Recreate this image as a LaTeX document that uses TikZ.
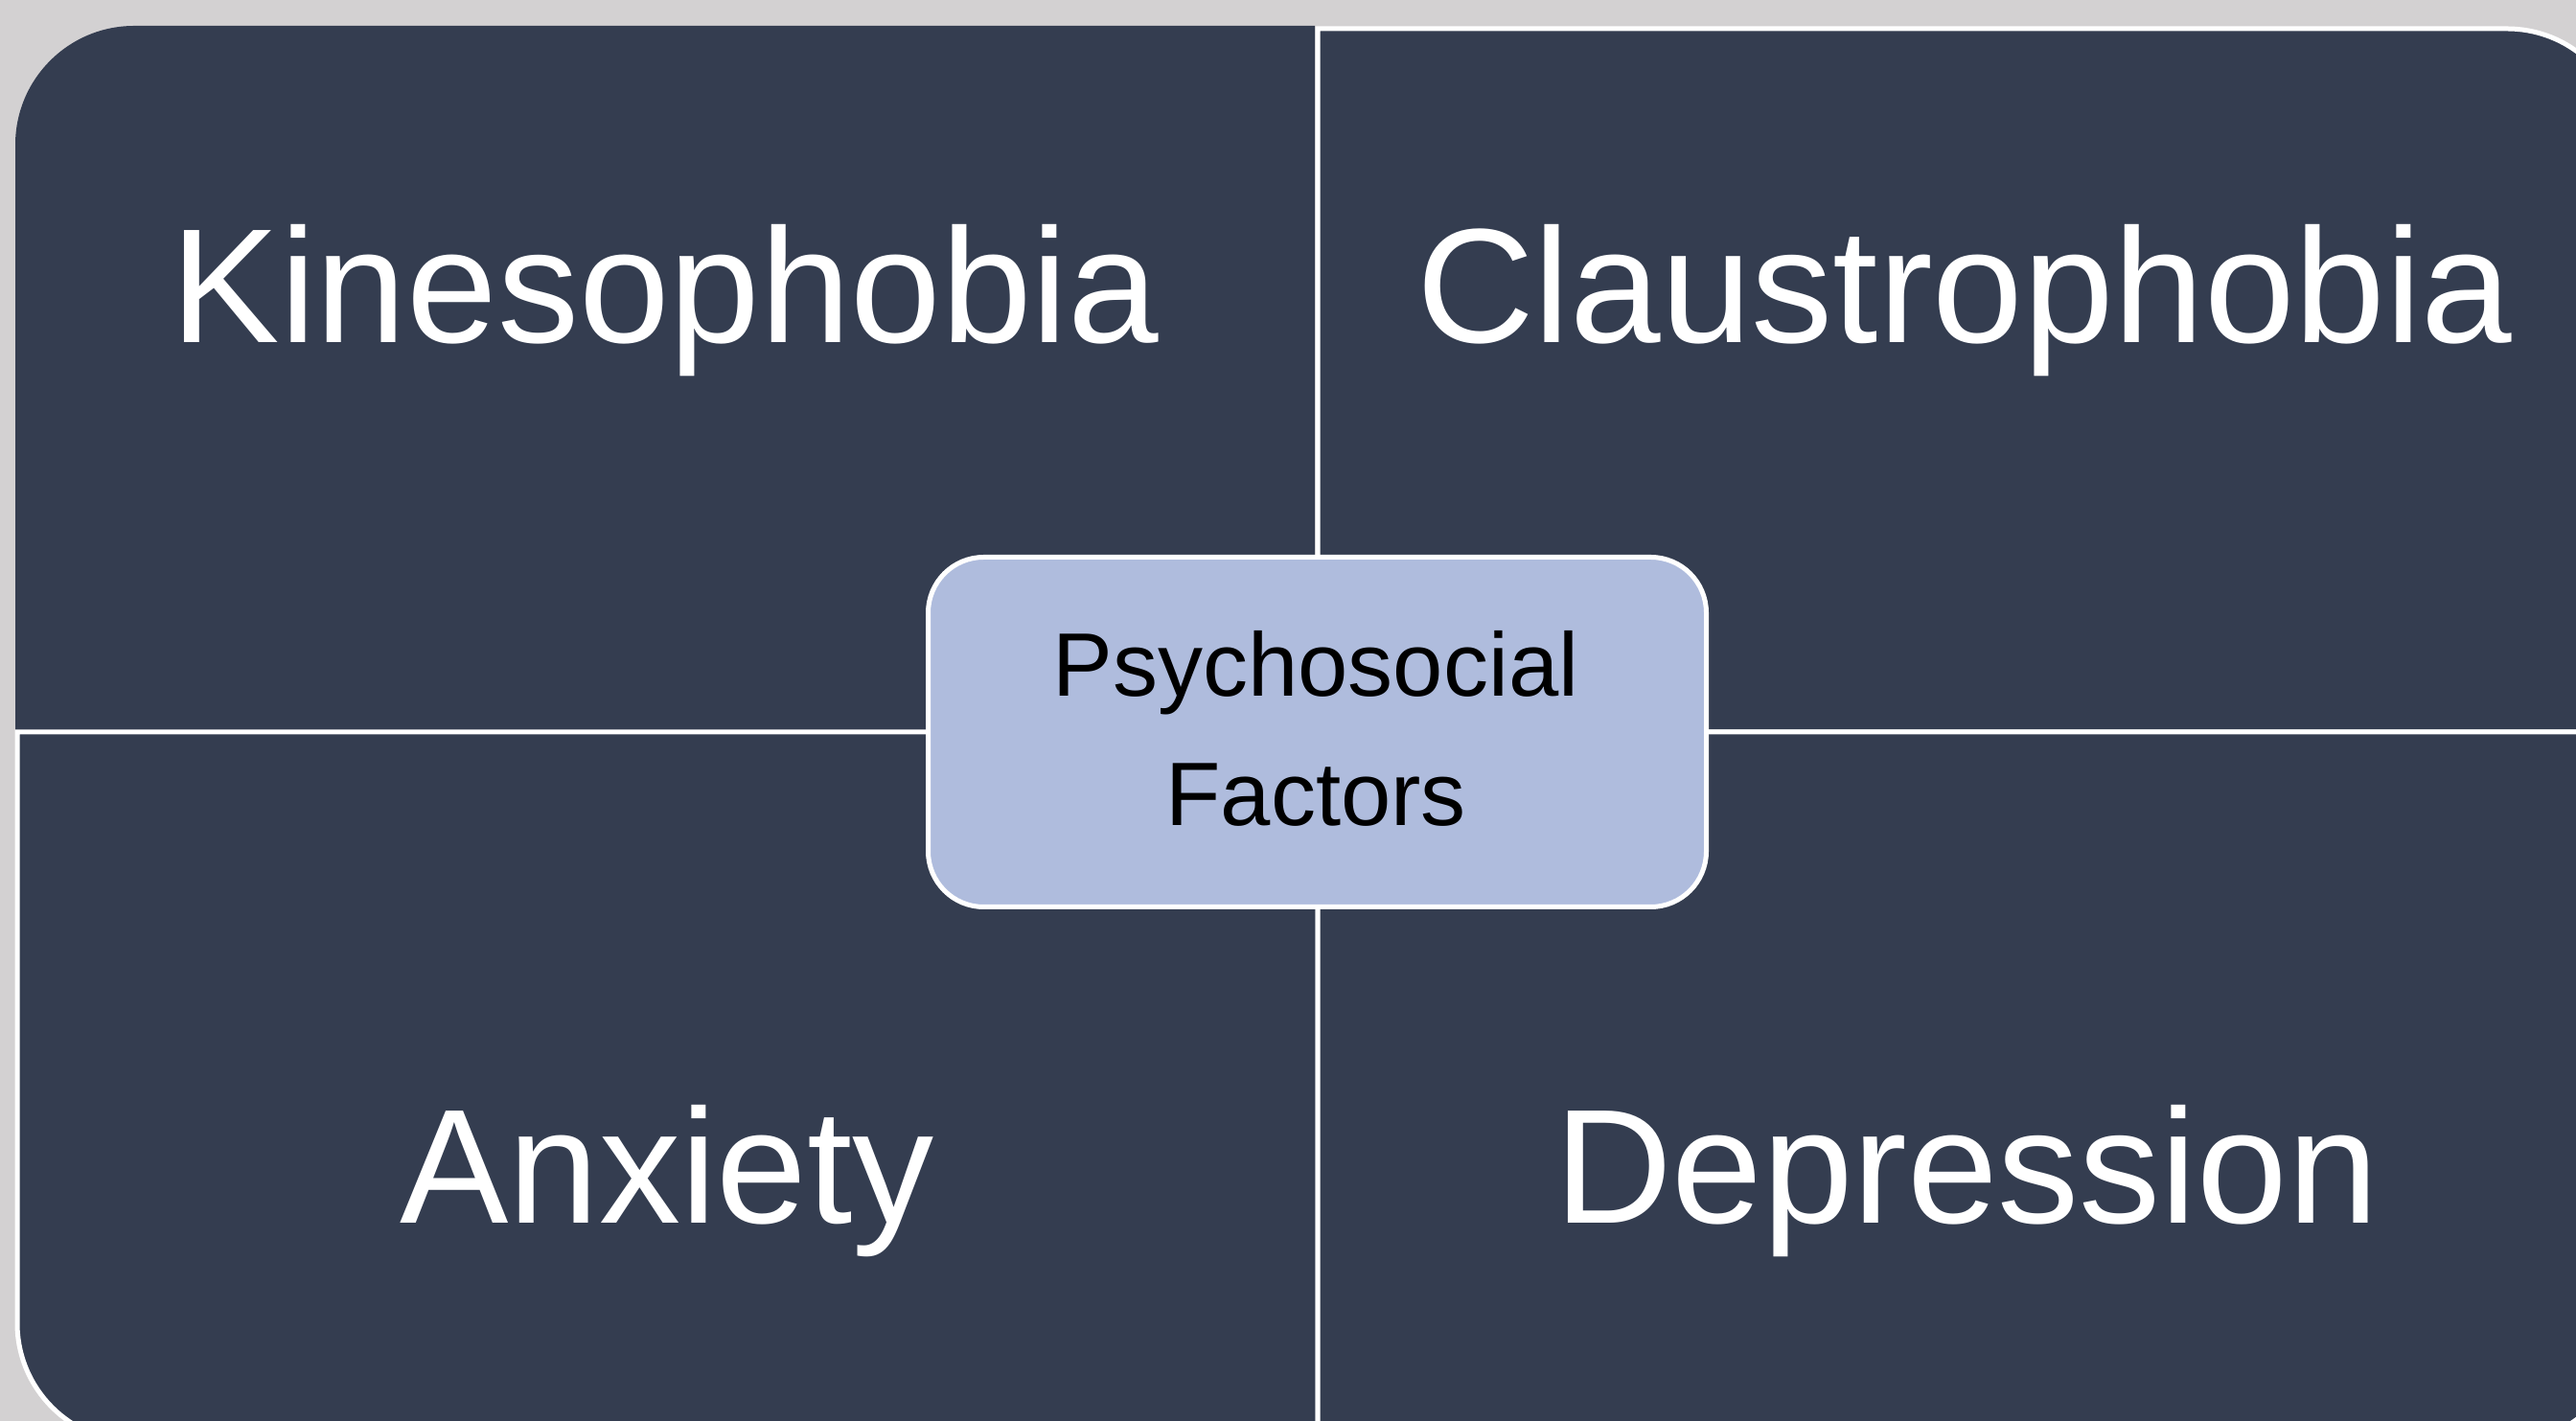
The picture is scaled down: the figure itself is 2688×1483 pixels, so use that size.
\documentclass[tikz,border=0pt]{standalone}
\usepackage{fontspec}
\setmainfont{Liberation Sans}
\definecolor{bggray}{HTML}{D3D1D2}
\definecolor{quaddark}{HTML}{343D50}
\definecolor{centerblue}{HTML}{AFBCDD}
\begin{document}
\begin{tikzpicture}[x=1pt,y=1pt,
  quadfill/.style={fill=quaddark},
  quadline/.style={fill=quaddark,draw=white,line width=5pt},
  bigtext/.style={text=white,font=\fontsize{170}{204}\selectfont,anchor=base,inner sep=0pt},
  centertext/.style={text=black,font=\fontsize{94}{113}\selectfont,anchor=base,inner sep=0pt},
  centerbox/.style={draw=white,line width=5pt,fill=centerblue,rounded corners=58pt,
    minimum width=812pt,minimum height=365pt,inner sep=0pt}]
\useasboundingbox (0,0) rectangle (2688,1483);
\fill[bggray] (0,0) rectangle (2688,1483);
\begin{scope}
\clip (0,0) rectangle (2688,1483);
% top-left quadrant (no outline)
\path[quadfill] (1372,721) -- (16,721) -- (16,1332) arc[start angle=180,end angle=90,radius=124] -- (1372,1456) -- cycle;
% top-right quadrant
\path[quadline] (1375,719) -- (1375,1453) -- (2616,1453) arc[start angle=90,end angle=0,radius=124] -- (2740,719) -- cycle;
% bottom-left quadrant
\path[quadline] (1375,719) -- (18,719) -- (18,102) arc[start angle=180,end angle=270,radius=124] -- (1375,-22) -- cycle;
% bottom-right quadrant
\path[quadline] (1375,719) -- (2740,719) -- (2740,102) arc[start angle=0,end angle=-90,radius=124] -- (1375,-22) -- cycle;
\end{scope}
\node[centerbox] (center) at (1374.5,719) {};
\node[centertext] (psy) at (1373,756) {Psychosocial};
\node[centertext] (fac) at (1373,621) {Factors};
\node[bigtext] (kin) at (694,1125) {Kinesophobia};
\node[bigtext] (cla) at (2050,1125) {Claustrophobia};
\node[bigtext] (anx) at (696,206) {Anxiety};
\node[bigtext] (dep) at (2052,206) {Depression};
\end{tikzpicture}
\end{document}
